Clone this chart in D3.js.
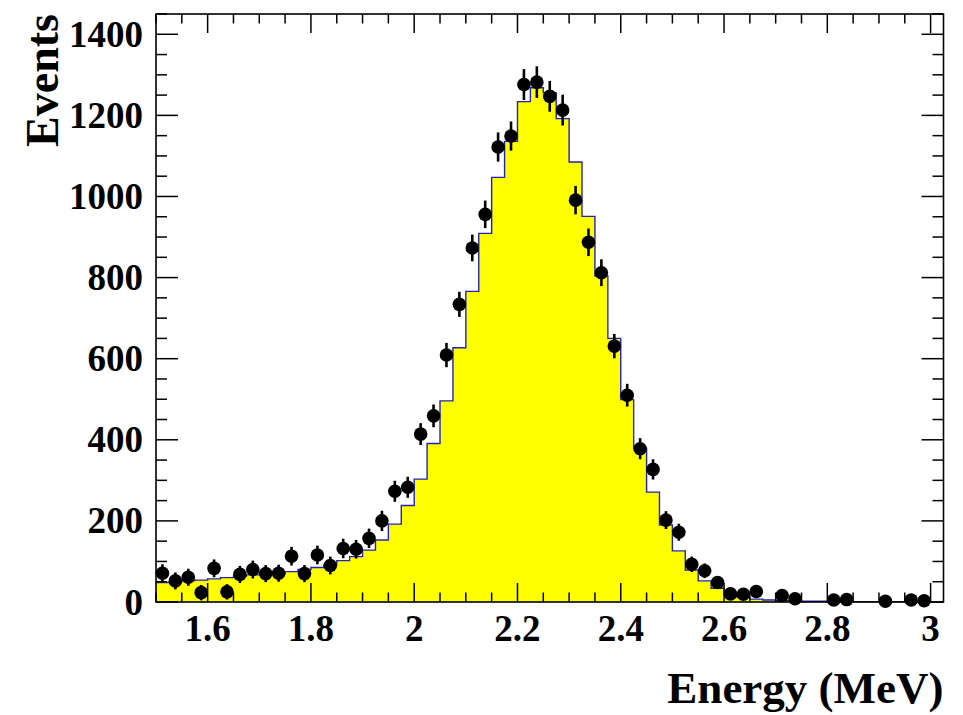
<!DOCTYPE html>
<html lang="en">
<head>
    <meta charset="UTF-8">
    <title>Energy spectrum</title>
    <script src="https://d3js.org/d3.v7.min.js"></script>
    <style>
        body { margin: 0; background: #fff; }
        svg { display: block; }
        text { font-family: "Liberation Serif", "Times New Roman", serif; font-weight: bold; fill: #000; }
    </style>
</head>
<body>
    <svg></svg>
    <script>
        // Histogram binning (61 bins of 0.025 MeV from 1.5 MeV)
        const binStart = 1.5, binWidth = 0.025;

        // Simulated spectrum (yellow histogram), one value per bin
        const mcCounts = [
            48, 49, 53, 54, 57, 60, 64, 67, 69, 69,
            75, 80, 85, 91, 102, 112, 128, 153, 192, 238,
            303, 391, 496, 627, 766, 909, 1047, 1136, 1234, 1268,
            1256, 1192, 1085, 951, 804, 650, 499, 379, 271, 190,
            126, 79, 52, 34, 17, 12, 7, 5, 3, 3,
            2, 2, 2, 1, 1, 1, 1, 1, 0, 0, 0
        ];

        // Measured events (points), null where no point is drawn
        const dataCounts = [
            71, 52, 61, 23, 83, 25, 68, 80, 70, 71,
            113, 70, 116, 90, 132, 130, 157, 200, 273, 283,
            414, 459, 609, 734, 873, 956, 1122, 1149, 1276, 1282,
            1247, 1213, 991, 887, 812, 631, 510, 378, 327, 202,
            172, 93, 77, 48, 20, 19, 26, null, 16, 8,
            null, null, 5, 6, null, null, 2, null, 5, 3, null
        ];

        // Error bar half-lengths of the points
        const dataErrors = [
            22, 21, 21, 19, 22, 19, 21, 22, 21, 21,
            23, 21, 23, 22, 24, 23, 24, 25, 26, 26,
            27, 28, 30, 31, 33, 34, 36, 36, 38, 39,
            38, 38, 35, 34, 33, 30, 28, 26, 25, 22,
            21, 19, 18, 16, 14, 14, 14, null, 12, 10,
            null, null, 8, 8, null, null, 6, null, 8, 6, null
        ];

        const yMajorTicks = [0, 200, 400, 600, 800, 1000, 1200, 1400];
        const xMajorTicks = [1.6, 1.8, 2.0, 2.2, 2.4, 2.6, 2.8, 3.0];

        const width = 963, height = 715;
        const m = { left: 156, right: 943.5, top: 14, bottom: 602 };

        const svg = d3.select("svg").attr("width", width).attr("height", height);

        const xMax = binStart + binWidth * mcCounts.length;
        const x = d3.scaleLinear().domain([binStart, xMax]).range([m.left, m.right]);
        const y = d3.scaleLinear().domain([0, 1450]).range([m.bottom, m.top]);

        const bins = mcCounts.map((v, i) => ({
            x0: binStart + i * binWidth,
            x1: binStart + (i + 1) * binWidth,
            mc: v,
            data: dataCounts[i],
            err: dataErrors[i]
        }));

        // Step outline of the histogram
        const stepPts = [];
        bins.forEach(b => { stepPts.push([b.x0, b.mc]); stepPts.push([b.x1, b.mc]); });

        svg.append("path")
            .datum(stepPts)
            .attr("d", d3.area().x(d => x(d[0])).y0(y(0)).y1(d => y(d[1])))
            .attr("fill", "#ffff00");

        svg.append("path")
            .datum(stepPts)
            .attr("d", d3.line().x(d => x(d[0])).y(d => y(d[1])))
            .attr("fill", "none")
            .attr("stroke", "#2424b4")
            .attr("stroke-width", 1.4);

        // Data points with error bars
        const pts = bins.filter(b => b.data !== null);
        const cx = b => x((b.x0 + b.x1) / 2);

        svg.append("g").selectAll("line")
            .data(pts)
            .join("line")
            .attr("x1", cx).attr("x2", cx)
            .attr("y1", b => y(Math.max(0, b.data - b.err)))
            .attr("y2", b => y(b.data + b.err))
            .attr("stroke", "#000")
            .attr("stroke-width", 2.6);

        svg.append("g").selectAll("circle")
            .data(pts)
            .join("circle")
            .attr("cx", cx)
            .attr("cy", b => y(b.data))
            .attr("r", 6.8)
            .attr("fill", "#000");

        // Axes: ROOT style, ticks pointing inward on all four sides
        const axisG = svg.append("g").attr("stroke", "#000").attr("stroke-width", 1.5);

        const yMinorTicks = d3.range(0, 1451, 50);
        const xMinorTicks = d3.range(0, 40)
            .map(i => binStart + i * 0.05)
            .filter(v => v <= xMax + 1e-9);

        yMinorTicks.forEach(v => {
            const len = v % 200 === 0 ? 22 : 11;
            axisG.append("line").attr("x1", m.left).attr("x2", m.left + len).attr("y1", y(v)).attr("y2", y(v));
            axisG.append("line").attr("x1", m.right).attr("x2", m.right - len).attr("y1", y(v)).attr("y2", y(v));
        });

        xMinorTicks.forEach(v => {
            const major = Math.abs(v * 5 - Math.round(v * 5)) < 1e-6;
            const len = major ? 19 : 9.5;
            axisG.append("line").attr("y1", m.bottom).attr("y2", m.bottom - len).attr("x1", x(v)).attr("x2", x(v));
            axisG.append("line").attr("y1", m.top).attr("y2", m.top + len).attr("x1", x(v)).attr("x2", x(v));
        });

        svg.append("rect")
            .attr("x", m.left).attr("y", m.top)
            .attr("width", m.right - m.left).attr("height", m.bottom - m.top)
            .attr("fill", "none").attr("stroke", "#000").attr("stroke-width", 1.6);

        // Tick labels
        svg.append("g").selectAll("text")
            .data(yMajorTicks)
            .join("text")
            .attr("x", m.left - 13)
            .attr("y", d => y(d))
            .attr("dy", "0.34em")
            .attr("text-anchor", "end")
            .style("font-size", "37px")
            .text(d => d);

        svg.append("g").selectAll("text")
            .data(xMajorTicks)
            .join("text")
            .attr("x", d => x(d))
            .attr("y", 641)
            .attr("text-anchor", "middle")
            .style("font-size", "37px")
            .text(d => d3.format("~g")(d));

        // Axis titles
        svg.append("text")
            .attr("x", m.right)
            .attr("y", 703)
            .attr("text-anchor", "end")
            .style("font-size", "45px")
            .text("Energy (MeV)");

        svg.append("text")
            .attr("transform", `translate(58,${m.top}) rotate(-90)`)
            .attr("text-anchor", "end")
            .style("font-size", "46px")
            .text("Events");
    </script>
</body>
</html>
